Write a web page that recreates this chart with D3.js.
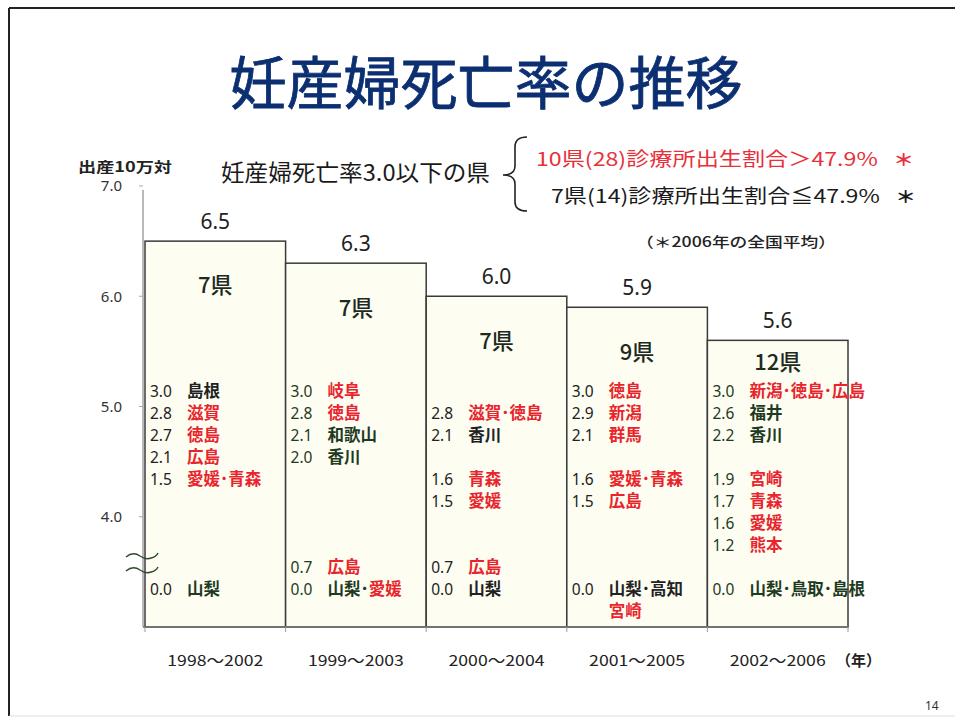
<!DOCTYPE html>
<html>
<head>
<meta charset="utf-8">
<script src="https://cdn.jsdelivr.net/npm/d3@7"></script>
<style>
  body { margin: 0; background: #fff; }
  svg { display: block; }
  .jp { font-family: "Noto Sans CJK JP", "Noto Sans", sans-serif; }
  .num { font-family: "Noto Sans", "DejaVu Sans", sans-serif; }
</style>
</head>
<body>
<svg id="chart" width="955" height="719"></svg>
<script>
/*
MATERNAL MORTALITY RATE BY 5-YEAR PERIOD (broken axis bar chart)
*/

const periods = ["1998～2002", "1999～2003", "2000～2004", "2001～2005", "2002～2006"];
const rates = [6.5, 6.3, 6.0, 5.9, 5.6];
const counts = ["7県", "7県", "7県", "9県", "12県"];
const yTicks = [4.0, 5.0, 6.0, 7.0];

// prefecture lists, one per period; null = blank line on the slide
// tone: r = 診療所出生割合 > 47.9%, k / g = ≦ 47.9% (black / dark green print)
const list1998 = [
  ["3.0", [["島根", "k"]]],
  ["2.8", [["滋賀", "r"]]],
  ["2.7", [["徳島", "r"]]],
  ["2.1", [["広島", "r"]]],
  ["1.5", [["愛媛", "r"], ["青森", "r"]]],
  null, null, null, null,
  ["0.0", [["山梨", "g"]]]
];
const list1999 = [
  ["3.0", [["岐阜", "r"]]],
  ["2.8", [["徳島", "r"]]],
  ["2.1", [["和歌山", "g"]]],
  ["2.0", [["香川", "g"]]],
  null, null, null, null,
  ["0.7", [["広島", "r"]]],
  ["0.0", [["山梨", "g"], ["愛媛", "r"]]]
];
const list2000 = [
  null,
  ["2.8", [["滋賀", "r"], ["徳島", "r"]]],
  ["2.1", [["香川", "k"]]],
  null,
  ["1.6", [["青森", "r"]]],
  ["1.5", [["愛媛", "r"]]],
  null, null,
  ["0.7", [["広島", "r"]]],
  ["0.0", [["山梨", "k"]]]
];
const list2001 = [
  ["3.0", [["徳島", "r"]]],
  ["2.9", [["新潟", "r"]]],
  ["2.1", [["群馬", "r"]]],
  null,
  ["1.6", [["愛媛", "r"], ["青森", "r"]]],
  ["1.5", [["広島", "r"]]],
  null, null, null,
  ["0.0", [["山梨", "k"], ["高知", "k"]]],
  ["", [["宮崎", "r"]]]
];
const list2002 = [
  ["3.0", [["新潟", "r"], ["徳島", "r"], ["広島", "r"]]],
  ["2.6", [["福井", "g"]]],
  ["2.2", [["香川", "g"]]],
  null,
  ["1.9", [["宮崎", "r"]]],
  ["1.7", [["青森", "r"]]],
  ["1.6", [["愛媛", "r"]]],
  ["1.2", [["熊本", "r"]]],
  null,
  ["0.0", [["山梨", "g"], ["鳥取", "g"], ["島根", "g"]]]
];
const lists = [list1998, list1999, list2000, list2001, list2002];
const numTone = ["k", "g", "k", "k", "g"];

const tones = { r: "#e8252d", k: "#222222", g: "#1e3a22" };

const chart = d3.select("#chart");

// slide frame
chart.append("line").attr("x1", 9).attr("x2", 955).attr("y1", 8).attr("y2", 8)
  .attr("stroke", "#222").attr("stroke-width", 2);
chart.append("line").attr("x1", 9).attr("x2", 9).attr("y1", 8).attr("y2", 716)
  .attr("stroke", "#222").attr("stroke-width", 2);
chart.append("line").attr("x1", 9).attr("x2", 955).attr("y1", 716).attr("y2", 716)
  .attr("stroke", "#ddd").attr("stroke-width", 1);

// title
chart.append("text").attr("class", "jp")
  .text("妊産婦死亡率の推移")
  .attr("x", 486).attr("y", 104)
  .attr("text-anchor", "middle")
  .attr("font-size", 57).attr("font-weight", 400)
  .attr("stroke", "#0c2f72").attr("stroke-width", 0.8)
  .attr("fill", "#0c2f72");

// scales
const x = d3.scaleBand().domain(periods).range([145, 848]).padding(0);
const y = d3.scaleLinear().domain([3.0, 7.0]).range([627, 186]);
const base = y(3.0);

// y axis
chart.append("line").attr("x1", 143).attr("x2", 143).attr("y1", 190).attr("y2", base)
  .attr("stroke", "#8a8a8a").attr("stroke-width", 1.2);
chart.selectAll().data(yTicks).enter().append("line")
  .attr("x1", 139).attr("x2", 143)
  .attr("y1", (d) => y(d)).attr("y2", (d) => y(d))
  .attr("stroke", "#aaa");
chart.selectAll().data(yTicks).enter().append("text")
  .attr("class", "num")
  .text((d) => d.toFixed(1))
  .attr("x", 122).attr("y", (d) => y(d))
  .attr("dy", "0.35em")
  .attr("text-anchor", "end")
  .attr("font-size", 15)
  .attr("fill", "#333");

chart.append("text").attr("class", "jp")
  .text("出産10万対")
  .attr("x", 78).attr("y", 172)
  .attr("font-size", 14).attr("font-weight", 700)
  .attr("textLength", 94).attr("lengthAdjust", "spacingAndGlyphs")
  .attr("fill", "#222");

// bars
chart.selectAll().data(rates).enter().append("rect")
  .attr("x", (d, i) => x(periods[i]))
  .attr("y", (d) => y(d))
  .attr("width", x.bandwidth())
  .attr("height", (d) => base - y(d))
  .attr("fill", "#fdfdf2")
  .attr("stroke", "#3a3a3a")
  .attr("stroke-width", 1.5);

// baseline and period ticks
chart.append("line").attr("x1", 143).attr("x2", 848).attr("y1", base).attr("y2", base)
  .attr("stroke", "#777").attr("stroke-width", 1.5);
chart.selectAll().data(periods.concat(["end"])).enter().append("line")
  .attr("x1", (d, i) => 145 + i * x.bandwidth())
  .attr("x2", (d, i) => 145 + i * x.bandwidth())
  .attr("y1", base).attr("y2", base + 5)
  .attr("stroke", "#999");

// axis break mark
const wave = (yy) => `M126,${yy} q7,-6 14,-1 q6,4 11,2 q5,-1 7,-5`;
[557, 571].forEach((yy) => {
  chart.append("path").attr("d", wave(yy))
    .attr("fill", "none").attr("stroke", "#2c4a32").attr("stroke-width", 1.5);
});

// value labels
chart.selectAll().data(rates).enter().append("text")
  .attr("class", "num")
  .text((d) => d.toFixed(1))
  .attr("x", (d, i) => x(periods[i]) + x.bandwidth() / 2)
  .attr("y", (d) => y(d) - 12)
  .attr("text-anchor", "middle")
  .attr("font-size", 21)
  .attr("fill", "#222");

// rows of the prefecture lists
const rowTop = 391;
const rowStep = 22;

// count labels (7県 ...), kept above the first list row
chart.selectAll().data(counts).enter().append("text")
  .attr("class", "jp")
  .text((d) => d)
  .attr("x", (d, i) => x(periods[i]) + x.bandwidth() / 2)
  .attr("y", (d, i) => Math.min(y(rates[i]) + 44, rowTop - 29))
  .attr("dy", "0.38em")
  .attr("text-anchor", "middle")
  .attr("font-size", 22).attr("font-weight", 500)
  .attr("fill", "#1e2a1e");

lists.forEach((list, b) => {
  const left = x(periods[b]);
  list.forEach((row, r) => {
    if (!row) return;
    const yy = rowTop + r * rowStep;
    chart.append("text").attr("class", "num")
      .text(row[0])
      .attr("x", left + 5).attr("y", yy).attr("dy", "0.36em")
      .attr("font-size", 15.5)
      .attr("fill", tones[numTone[b]]);
    const t = chart.append("text").attr("class", "jp")
      .attr("x", left + 42).attr("y", yy).attr("dy", "0.36em")
      .attr("font-size", 16.5).attr("font-weight", 700);
    row[1].forEach((n, k) => {
      if (k > 0) {
        t.append("tspan").text("･").attr("fill", tones[row[1][k - 1][1]]);
      }
      t.append("tspan").text(n[0]).attr("fill", tones[n[1]]);
    });
  });
});

// x labels
chart.selectAll().data(periods).enter().append("text")
  .attr("class", "jp")
  .text((d) => d)
  .attr("x", (d) => x(d) + x.bandwidth() / 2)
  .attr("y", 666)
  .attr("text-anchor", "middle")
  .attr("font-size", 15)
  .attr("textLength", 96).attr("lengthAdjust", "spacingAndGlyphs")
  .attr("fill", "#222");
chart.append("text").attr("class", "jp")
  .text("（年）")
  .attr("x", 836).attr("y", 666)
  .attr("font-size", 15).attr("font-weight", 700)
  .attr("textLength", 45).attr("lengthAdjust", "spacingAndGlyphs")
  .attr("fill", "#222");

// legend block
chart.append("text").attr("class", "jp")
  .text("妊産婦死亡率3.0以下の県")
  .attr("x", 221).attr("y", 181)
  .attr("font-size", 22.5)
  .attr("textLength", 269).attr("lengthAdjust", "spacingAndGlyphs")
  .attr("fill", "#1a1a1a");
chart.append("path")
  .attr("d", "M527,137 Q515,137 515,147 L515,166 Q515,175 503,175 Q515,175 515,184 L515,202 Q515,211 527,211")
  .attr("fill", "none").attr("stroke", "#222").attr("stroke-width", 1.6);

function legendLine(label, x0, y0, len, color) {
  const t = chart.append("text").attr("class", "jp")
    .attr("x", x0).attr("y", y0)
    .attr("font-size", 19)
    .attr("textLength", len).attr("lengthAdjust", "spacingAndGlyphs")
    .attr("fill", color);
  t.append("tspan").text(label + "\u00a0\u00a0\u00a0");
  t.append("tspan").text("＊").attr("font-weight", 700).attr("font-size", 17);
}
legendLine("10県(28)診療所出生割合＞47.9%", 536, 166, 378, "#e8303a");
legendLine("7県(14)診療所出生割合≦47.9%", 551, 203, 365, "#1a1a1a");

chart.append("text").attr("class", "jp")
  .text("（＊2006年の全国平均）")
  .attr("x", 636).attr("y", 247)
  .attr("font-size", 14).attr("font-weight", 500)
  .attr("textLength", 200).attr("lengthAdjust", "spacingAndGlyphs")
  .attr("fill", "#222");

// page number
chart.append("text").attr("class", "num")
  .text("14")
  .attr("x", 925).attr("y", 710)
  .attr("font-size", 12)
  .attr("fill", "#333");
</script>
</body>
</html>
